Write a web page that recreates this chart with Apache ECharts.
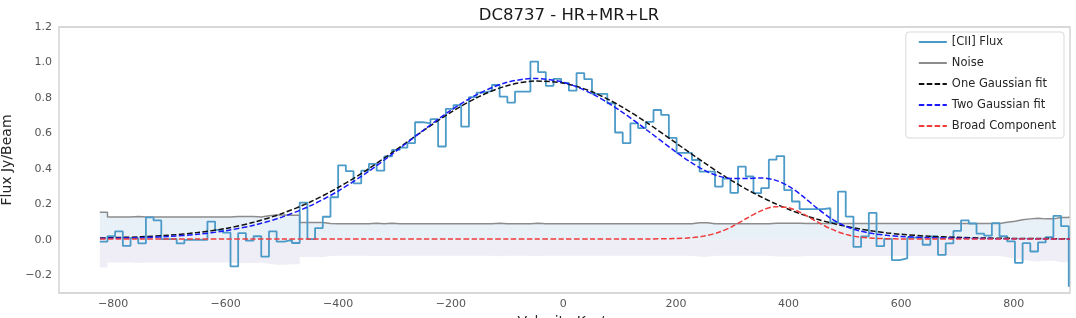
<!DOCTYPE html>
<html><head><meta charset="utf-8">
<script src="https://cdn.jsdelivr.net/npm/echarts@6/dist/echarts.min.js"></script>
<style>html,body{margin:0;padding:0;background:#fff}#c{width:1076px;height:318px}</style>
</head><body><div id="c"></div>
<script>
// channel left edges (km/s)
const velocity = [-823.6,-809.9,-796.3,-782.6,-768.9,-755.3,-741.6,-728.0,-714.3,-700.6,
-687.0,-673.3,-659.7,-646.0,-632.3,-618.7,-605.0,-591.3,-577.7,-564.0,
-550.4,-536.7,-523.0,-509.4,-495.7,-482.1,-468.4,-454.7,-441.1,-427.4,
-413.7,-400.1,-386.4,-372.8,-359.1,-345.4,-331.8,-318.1,-304.4,-290.8,
-277.1,-263.5,-249.8,-236.1,-222.5,-208.8,-195.1,-181.5,-167.8,-154.2,
-140.5,-126.8,-113.2,-99.5,-85.9,-72.2,-58.5,-44.9,-31.2,-17.5,
-3.9,9.8,23.4,37.1,50.8,64.4,78.1,91.8,105.4,119.1,
132.7,146.4,160.1,173.7,187.4,201.1,214.7,228.4,242.0,255.7,
269.4,283.0,296.7,310.3,324.0,337.7,351.3,365.0,378.7,392.3,
406.0,419.6,433.3,447.0,460.6,474.3,487.9,501.6,515.3,528.9,
542.6,556.3,569.9,583.6,597.2,610.9,624.6,638.2,651.9,665.5,
679.2,692.9,706.5,720.2,733.9,747.5,761.2,774.8,788.5,802.2,
815.8,829.5,843.2,856.8,870.5,884.1,897.8];
const flux = [-0.01,0.02,0.047,-0.034,0.01,-0.02,0.126,0.109,0.004,0.004,
-0.02,0.0,0.0,0.0,0.103,0.056,0.04,-0.15,0.038,-0.005,
0.02,-0.095,0.047,-0.01,0.0,-0.018,0.21,0.004,0.066,0.13,
0.24,0.42,0.387,0.318,0.39,0.428,0.39,0.47,0.507,0.52,
0.545,0.663,0.657,0.68,0.526,0.738,0.76,0.638,0.804,0.83,
0.84,0.873,0.807,0.774,0.836,0.836,1.005,0.945,0.868,0.908,
0.885,0.841,0.94,0.906,0.823,0.823,0.77,0.605,0.545,0.657,
0.63,0.665,0.732,0.704,0.575,0.49,0.49,0.45,0.385,0.385,
0.30,0.345,0.265,0.413,0.357,0.263,0.291,0.452,0.472,0.28,
0.216,0.173,0.173,0.173,0.178,0.098,0.272,0.131,-0.04,0.019,
0.152,-0.036,0.005,-0.115,-0.105,0.012,0.012,-0.028,0.019,-0.085,
-0.02,0.05,0.11,0.092,0.035,0.023,0.094,0.02,-0.009,-0.13,
-0.019,-0.066,-0.015,0.015,0.135,0.077,-0.265];
const noise = [0.156,0.128,0.128,0.128,0.131,0.128,0.128,0.128,0.128,0.128,
0.128,0.128,0.128,0.128,0.128,0.128,0.128,0.131,0.131,0.131,
0.128,0.135,0.140,0.140,0.138,0.138,0.097,0.097,0.097,0.092,
0.090,0.090,0.090,0.090,0.090,0.093,0.090,0.093,0.090,0.090,
0.090,0.090,0.090,0.090,0.090,0.090,0.090,0.090,0.090,0.090,
0.090,0.093,0.090,0.090,0.090,0.090,0.093,0.090,0.090,0.090,
0.090,0.090,0.090,0.090,0.090,0.090,0.090,0.090,0.090,0.090,
0.090,0.090,0.090,0.090,0.090,0.090,0.090,0.096,0.096,0.090,
0.090,0.090,0.090,0.090,0.090,0.090,0.090,0.094,0.094,0.094,
0.094,0.092,0.092,0.092,0.092,0.092,0.092,0.092,0.092,0.092,
0.092,0.092,0.092,0.092,0.092,0.092,0.092,0.092,0.092,0.092,
0.092,0.092,0.092,0.092,0.092,0.092,0.092,0.099,0.105,0.113,
0.118,0.122,0.118,0.118,0.126,0.126,0.131];
// fit curves
const fitVelocity = [-823,-800,-750,-700,-650,-600,-550,-500,-450,-400,-350,-300,-250,-200,-150,-100,-50,0,50,100,150,
200,225,250,275,300,325,350,375,400,425,450,475,500,525,550,575,600,650,700,750,800,850,900];
const oneGauss = [0.010,0.012,0.017,0.026,0.041,0.064,0.099,0.148,0.213,0.295,0.392,0.501,0.613,0.719,0.807,0.869,0.895,0.884,0.836,0.757,0.657,
0.546,0.490,0.435,0.382,0.332,0.286,0.244,0.206,0.172,0.142,0.117,0.095,0.077,0.062,0.049,0.039,0.031,0.020,0.014,0.010,0.008,0.007,0.006];
const twoGauss = [0.008,0.009,0.012,0.019,0.031,0.051,0.082,0.128,0.191,0.275,0.377,0.493,0.615,0.730,0.825,0.888,0.910,0.888,0.825,0.730,0.615,
0.495,0.440,0.393,0.360,0.345,0.345,0.349,0.338,0.303,0.246,0.180,0.121,0.078,0.051,0.035,0.025,0.019,0.012,0.009,0.007,0.006,0.005,0.005];
const broadComp = [0.005,0.005,0.005,0.005,0.005,0.005,0.005,0.005,0.005,0.005,0.005,0.005,0.005,0.005,0.005,0.005,0.005,0.005,0.005,0.005,0.005,
0.007,0.011,0.021,0.041,0.075,0.120,0.162,0.186,0.181,0.148,0.103,0.062,0.032,0.016,0.009,0.006,0.005,0.005,0.005,0.005,0.005,0.005,0.005];
const xTicks = [-800,-600,-400,-200,0,200,400,600,800];
const yTicks = [-0.2,0.0,0.2,0.4,0.6,0.8,1.0,1.2];

const pair = (xs, ys) => xs.map((x, i) => [x, ys[i]]);
const negNoise = noise.map(n => -n);
const fmtX = v => (v < 0 ? '\u2212' : '') + Math.abs(Math.round(v));
const fmtY = v => (v < -1e-9 ? '\u2212' : '') + Math.abs(v).toFixed(1);
const FONT = 'DejaVu Sans';
const dash = [5.5, 2.4];

const chart = echarts.init(document.getElementById('c'), null, {renderer: 'canvas'});
chart.setOption({
  animation: false,
  textStyle: {fontFamily: FONT},
  title: {
    text: 'DC8737 - HR+MR+LR', left: 564, top: 2, textAlign: 'center',
    textStyle: {fontFamily: FONT, fontSize: 16.5, fontWeight: 'normal', color: '#1a1a1a'}
  },
  grid: {left: 59, right: 6, top: 27, bottom: 25, containLabel: false, outerBoundsMode: 'none',
         show: true, borderColor: '#cccccc', borderWidth: 1.3, backgroundColor: 'transparent'},
  legend: {
    orient: 'vertical', right: 12, top: 32,
    data: ['[CII] Flux', 'Noise', 'One Gaussian fit', 'Two Gaussian fit', 'Broad Component'],
    backgroundColor: '#ffffff', borderColor: '#d9d9d9', borderWidth: 1, borderRadius: 3,
    padding: [4, 8, 6, 12], itemWidth: 28, itemHeight: 10, itemGap: 9,
    itemStyle: {opacity: 0},
    textStyle: {fontFamily: FONT, fontSize: 11.5, color: '#262626'}
  },
  xAxis: {
    type: 'value', min: -896, max: 900,
    name: 'Velocity Km/s', nameLocation: 'middle', nameGap: 17,
    nameTextStyle: {fontFamily: FONT, fontSize: 14, color: '#262626'},
    axisLine: {show: false}, axisTick: {show: false, customValues: xTicks}, splitLine: {show: false},
    axisLabel: {customValues: xTicks, formatter: fmtX, color: '#555555', fontSize: 11, margin: 6, fontFamily: FONT}
  },
  yAxis: {
    type: 'value', min: -0.3, max: 1.2,
    name: 'Flux Jy/Beam', nameLocation: 'middle', nameGap: 38,
    nameTextStyle: {fontFamily: FONT, fontSize: 14, color: '#262626'},
    axisLine: {show: false}, axisTick: {show: false, customValues: yTicks}, splitLine: {show: false},
    axisLabel: {customValues: yTicks, formatter: fmtY, color: '#555555', fontSize: 11, margin: 7, fontFamily: FONT}
  },
  series: [
    {type: 'line', data: pair(velocity, noise), step: 'end', symbol: 'none', silent: true, z: 1,
     lineStyle: {width: 0, opacity: 0}, areaStyle: {color: '#e9f1f8', opacity: 1, origin: 0}},
    {type: 'line', data: pair(velocity, negNoise), step: 'end', symbol: 'none', silent: true, z: 1,
     lineStyle: {width: 0, opacity: 0}, areaStyle: {color: '#efedf5', opacity: 1, origin: 0}},
    {name: 'Noise', type: 'line', data: pair(velocity, noise), step: 'end', symbol: 'none', z: 2,
     color: '#8c8c8c', lineStyle: {color: '#8c8c8c', width: 1.5}},
    {name: '[CII] Flux', type: 'line', data: pair(velocity, flux), step: 'end', symbol: 'none', z: 3,
     color: '#4b9ac8', lineStyle: {color: '#4b9ac8', width: 1.8}},
    {name: 'One Gaussian fit', type: 'line', data: pair(fitVelocity, oneGauss), smooth: 0.3, symbol: 'none', z: 4,
     color: '#111111', lineStyle: {color: '#111111', width: 1.5, type: dash}},
    {name: 'Two Gaussian fit', type: 'line', data: pair(fitVelocity, twoGauss), smooth: 0.3, symbol: 'none', z: 5,
     color: '#1a1aff', lineStyle: {color: '#1a1aff', width: 1.5, type: dash}},
    {name: 'Broad Component', type: 'line', data: pair(fitVelocity, broadComp), smooth: 0.3, symbol: 'none', z: 6,
     color: '#f03c3c', lineStyle: {color: '#f03c3c', width: 1.5, type: dash}}
  ]
});
</script></body></html>
